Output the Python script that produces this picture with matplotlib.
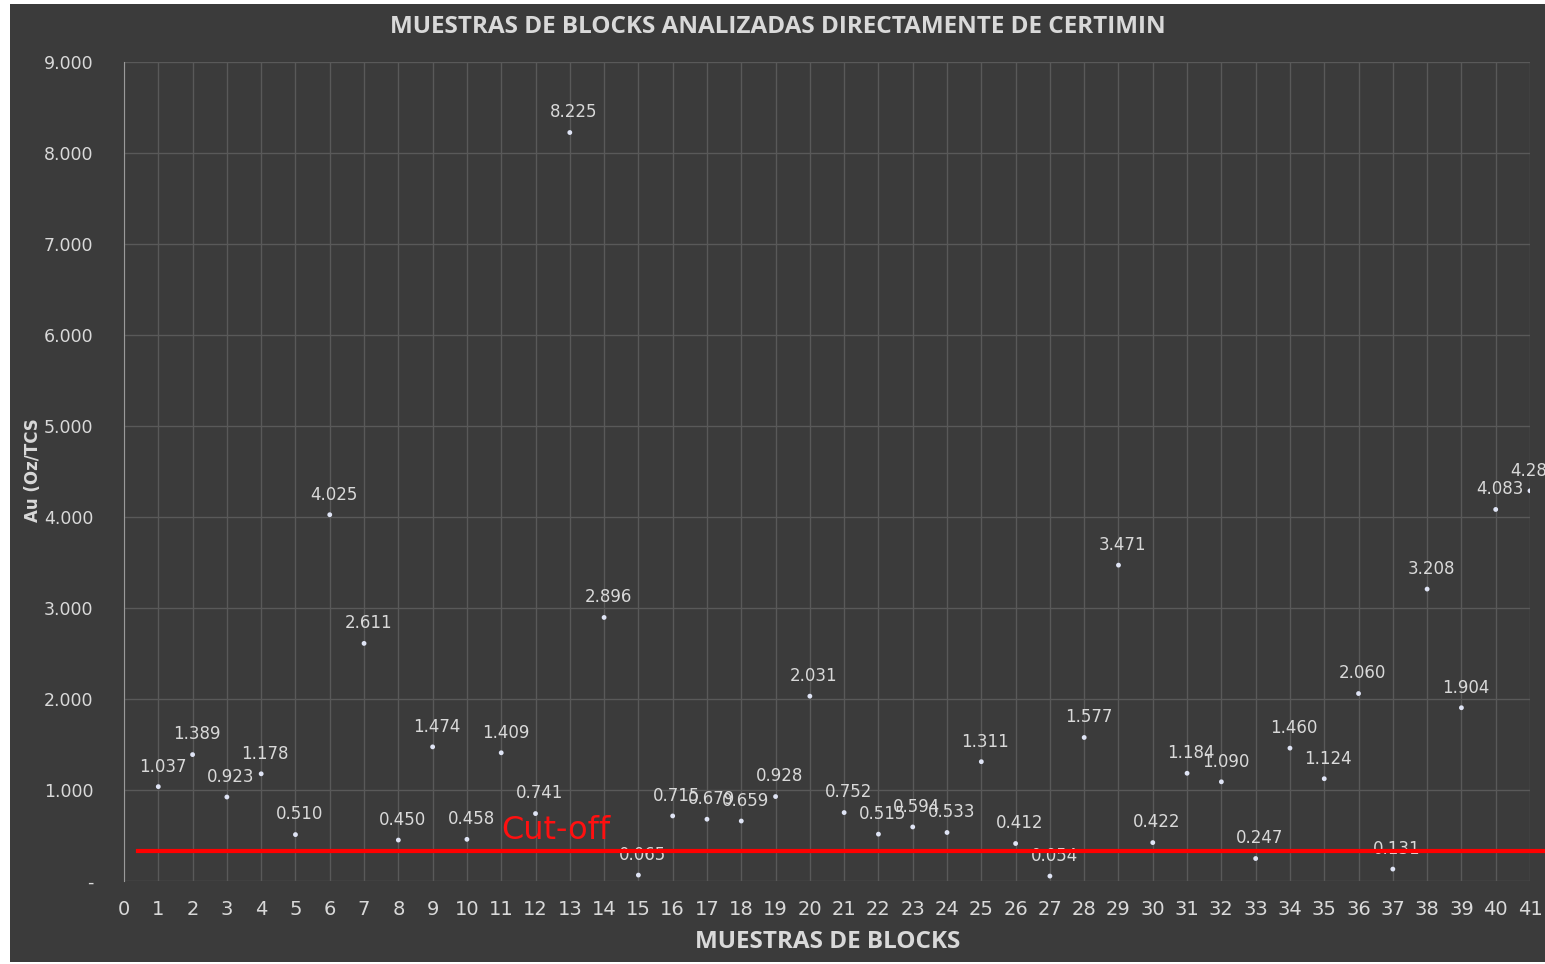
import matplotlib
matplotlib.use("Agg")
import matplotlib.pyplot as plt
from matplotlib.patches import Rectangle
from matplotlib.ticker import FuncFormatter

# muestras de blocks (Au Oz/TCS)
muestras = list(range(1, 42))
au = [1.037, 1.389, 0.923, 1.178, 0.510, 4.025, 2.611, 0.450, 1.474, 0.458,
      1.409, 0.741, 8.225, 2.896, 0.065, 0.715, 0.679, 0.659, 0.928, 2.031,
      0.752, 0.515, 0.594, 0.533, 1.311, 0.412, 0.054, 1.577, 3.471, 0.422,
      1.184, 1.090, 0.247, 1.460, 1.124, 2.060, 0.131, 3.208, 1.904, 4.083,
      4.288]
cut_off = 0.33

bg = '#3b3b3b'
grid_c = '#595959'
txt_c = '#d9d9d9'

fig = plt.figure(figsize=(15.45, 9.64), dpi=100)
fig.patch.set_facecolor('white')
fig.patches.append(Rectangle((10 / 1545, 2 / 964), 1 - 10 / 1545, 1 - 6 / 964,
                             transform=fig.transFigure, facecolor=bg,
                             edgecolor='none', zorder=-10))

ax = fig.add_axes([124 / 1545, 1 - 881 / 964, 1406 / 1545, 819 / 964])
ax.set_facecolor(bg)
ax.patch.set_alpha(0)

ax.scatter(muestras, au, s=12, color='#dfe4f5', zorder=4, edgecolors='none')
for x, y in zip(muestras, au):
    ax.annotate('%.3f' % y, (x, y), xytext=(3, 8), textcoords='offset points',
                ha='center', va='bottom', color=txt_c, fontsize=12,
                annotation_clip=False, zorder=5)

ax.plot([0.4, 41.5], [cut_off, cut_off], color='#ff0000', lw=3, zorder=7,
        clip_on=False)
ax.text(11, cut_off + 0.05, 'Cut-off', color='#ff1010', fontsize=23,
        ha='left', va='bottom', zorder=6)

ax.set_xlim(0, 41)
ax.set_ylim(0, 9)
ax.set_xticks(range(0, 42))
ax.set_yticks(range(0, 10))
ax.yaxis.set_major_formatter(FuncFormatter(lambda v, p: '-' if v == 0 else '%d.000' % v))
ax.grid(True, color=grid_c, lw=1)
ax.set_axisbelow(True)
for s in ['top', 'right', 'bottom']:
    ax.spines[s].set_visible(False)
ax.spines['left'].set_color('#9a9a9a')
ax.tick_params(length=0, colors=txt_c)
ax.tick_params(axis='x', labelsize=14, pad=14)
ax.tick_params(axis='y', labelsize=12.5, pad=22)

fig.text(778 / 1545, 1 - 27 / 964, 'MUESTRAS DE BLOCKS ANALIZADAS DIRECTAMENTE DE CERTIMIN',
         ha='center', va='center', color=txt_c, fontsize=17.5, fontweight='bold',
         family='Open Sans')
fig.text(828 / 1545, 1 - 942 / 964, 'MUESTRAS DE BLOCKS', ha='center', va='center',
         color=txt_c, fontsize=17.5, fontweight='bold', family='Open Sans')
fig.text(33 / 1545, 1 - 470 / 964, 'Au (Oz/TCS', ha='center', va='center',
         color=txt_c, fontsize=12, rotation=90, fontweight='bold')

fig.savefig('out.png', dpi=100, facecolor=fig.get_facecolor())
